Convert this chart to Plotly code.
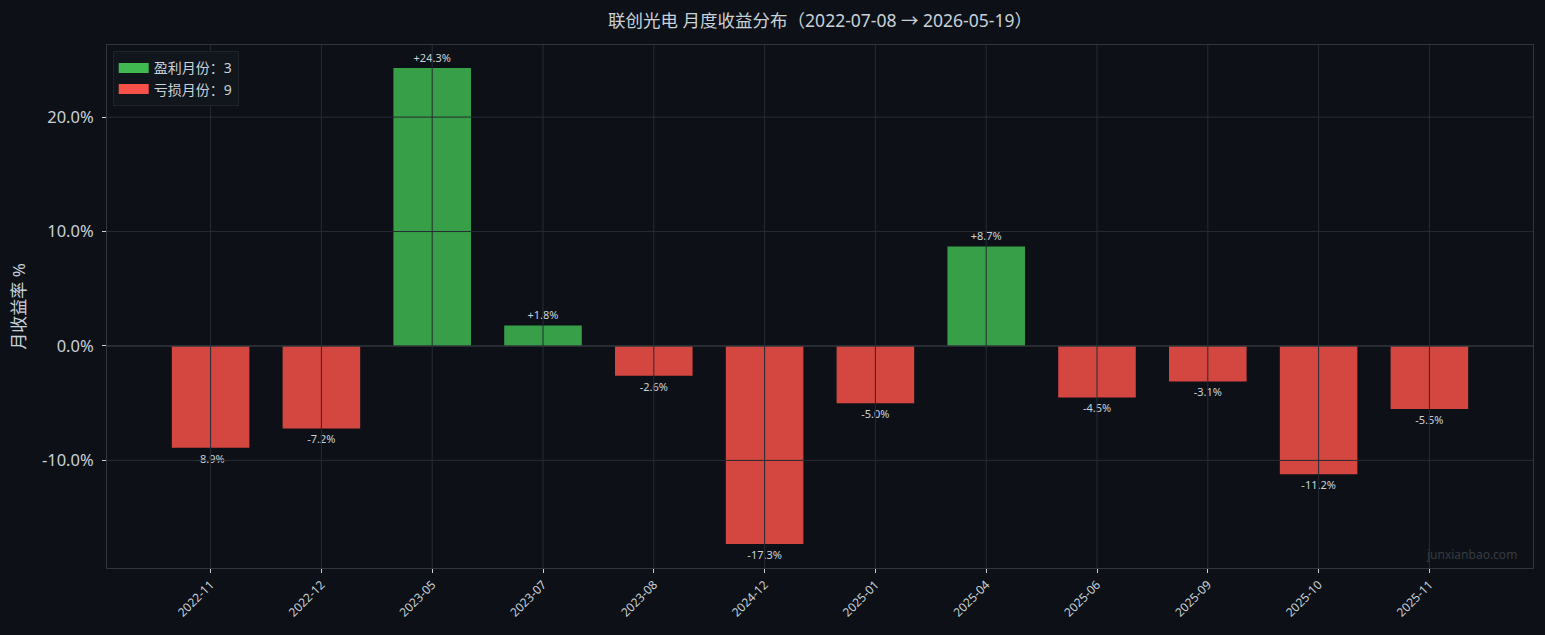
import plotly.graph_objects as go

months = ["2022-11", "2022-12", "2023-05", "2023-07", "2023-08", "2024-12",
          "2025-01", "2025-04", "2025-06", "2025-09", "2025-10", "2025-11"]
returns = [-8.9, -7.2, 24.3, 1.8, -2.6, -17.3, -5.0, 8.7, -4.5, -3.1, -11.2, -5.5]
y_ticks = [-10, 0, 10, 20]

BG = "#0d1117"
GREEN = "#3fb950"
RED = "#f85149"
TXT = "#c9d1d9"
GRID = "#262b33"
FONT = "Noto Sans, Noto Sans CJK SC, sans-serif"

n_up = sum(1 for v in returns if v > 0)
n_down = sum(1 for v in returns if v <= 0)
idx = list(range(len(months)))

fig = go.Figure()
fig.add_trace(go.Bar(
    x=idx, y=returns, width=0.7,
    marker=dict(color=[GREEN if v > 0 else RED for v in returns], opacity=0.85, line=dict(width=0)),
    text=[f"{v:+.1f}%" for v in returns], textposition="outside",
    textfont=dict(size=11, color=TXT, family=FONT), cliponaxis=False, showlegend=False,
))
fig.add_trace(go.Scatter(x=[None], y=[None], mode="lines", line=dict(color=GREEN, width=12),
                         name=f"盈利月份：{n_up}"))
fig.add_trace(go.Scatter(x=[None], y=[None], mode="lines", line=dict(color=RED, width=12),
                         name=f"亏损月份：{n_down}"))

shapes = []
for i in idx:
    shapes.append(dict(type="line", xref="x", yref="paper", x0=i, x1=i, y0=0, y1=1,
                       line=dict(color=GRID, width=1), layer="above"))
for t in y_ticks:
    shapes.append(dict(type="line", xref="paper", yref="y", x0=0, x1=1, y0=t, y1=t,
                       line=dict(color="#30363d" if t == 0 else GRID, width=1.5 if t == 0 else 1),
                       layer="above"))

fig.update_layout(
    width=1545, height=635,
    paper_bgcolor=BG, plot_bgcolor=BG,
    margin=dict(l=107, r=12, t=45, b=67),
    barmode="overlay",
    font=dict(family=FONT, color=TXT),
    title=dict(text="联创光电 月度收益分布（2022-07-08 → 2026-05-19）", x=0.5, xanchor="center",
               xref="paper", y=1 - 21 / 635, yanchor="middle", yref="container",
               font=dict(size=17.5, color=TXT, family=FONT)),
    xaxis=dict(range=[-0.935, 11.935], tickmode="array", tickvals=idx, ticktext=months,
               tickangle=-45, tickfont=dict(size=12, color=TXT), showgrid=False,
               ticks="outside", ticklen=4, tickcolor=TXT, showline=True,
               linecolor="#30363d", mirror=True, zeroline=False),
    yaxis=dict(range=[-19.4, 26.3], tickmode="array", tickvals=y_ticks,
               ticktext=[f"{t:.1f}%" for t in y_ticks], tickfont=dict(size=16.5, color=TXT),
               showgrid=False, zeroline=False, ticks="outside", ticklen=4, tickcolor=TXT,
               ticklabelstandoff=5,
               showline=True, linecolor="#30363d", mirror=True,
               title=dict(text="月收益率 %", font=dict(size=17, color=TXT), standoff=11)),
    legend=dict(x=0.004, y=0.988, xanchor="left", yanchor="top", bgcolor="#11151c",
                bordercolor="#1f242b", borderwidth=1, font=dict(size=14, color=TXT),
                tracegroupgap=0),
    shapes=shapes,
    annotations=[dict(text="junxianbao.com", xref="paper", yref="paper", x=1, y=0,
                      xanchor="right", yanchor="bottom", xshift=-14, yshift=3, showarrow=False,
                      font=dict(size=12, color="#363b43"))],
)
fig.write_html("out.html")
